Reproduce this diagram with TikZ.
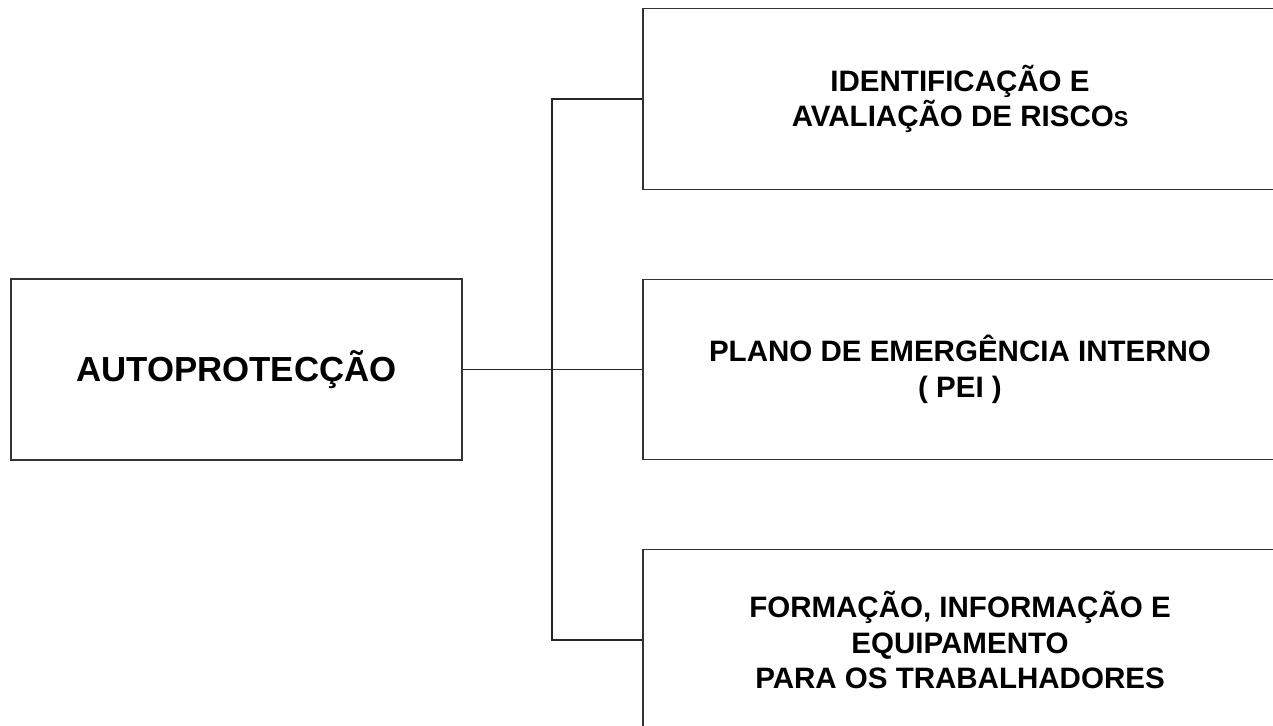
\documentclass[tikz,border=0pt]{standalone}
\usepackage{fontspec}
\setmainfont{Liberation Sans}
\usetikzlibrary{positioning}

\begin{document}
\begin{tikzpicture}[
    x=0.2mm, y=-0.2mm,
    font=\bfseries,
    box/.style={draw=black!80, line width=0.6pt, align=center, inner sep=0pt},
    rootbox/.style={box, minimum width=90.2mm, minimum height=36.2mm,
        font=\bfseries\fontsize{19.8}{23}\selectfont},
    topic/.style={box, minimum width=126.8mm, minimum height=36.1mm,
        font=\bfseries\fontsize{16.8}{20.2}\selectfont},
    link/.style={draw=black!85, line width=0.6pt},
]
\useasboundingbox (0,0) rectangle (1273,725);
\clip (0,0) rectangle (1273,725);

\node[rootbox] (auto) at (236.5,369.5) {AUTOPROTECÇÃO};
\node[topic] (risk) at (960,99) {IDENTIFICAÇÃO E\\AVALIAÇÃO DE RISCO{\fontsize{12.3}{12}\selectfont S}};
\node[topic] (pei) at (960,369.5) {PLANO DE EMERGÊNCIA INTERNO\\( PEI )};
\node[topic] (train) at (960,640) {FORMAÇÃO, INFORMAÇÃO E\\EQUIPAMENTO\\PARA OS TRABALHADORES};

% tronco
\coordinate (fork) at (552,369.5);
\draw[link] (auto.east) -- (fork) -- (pei.west);
\draw[link] (risk.west) -| (fork) |- (train.west);

\end{tikzpicture}
\end{document}
